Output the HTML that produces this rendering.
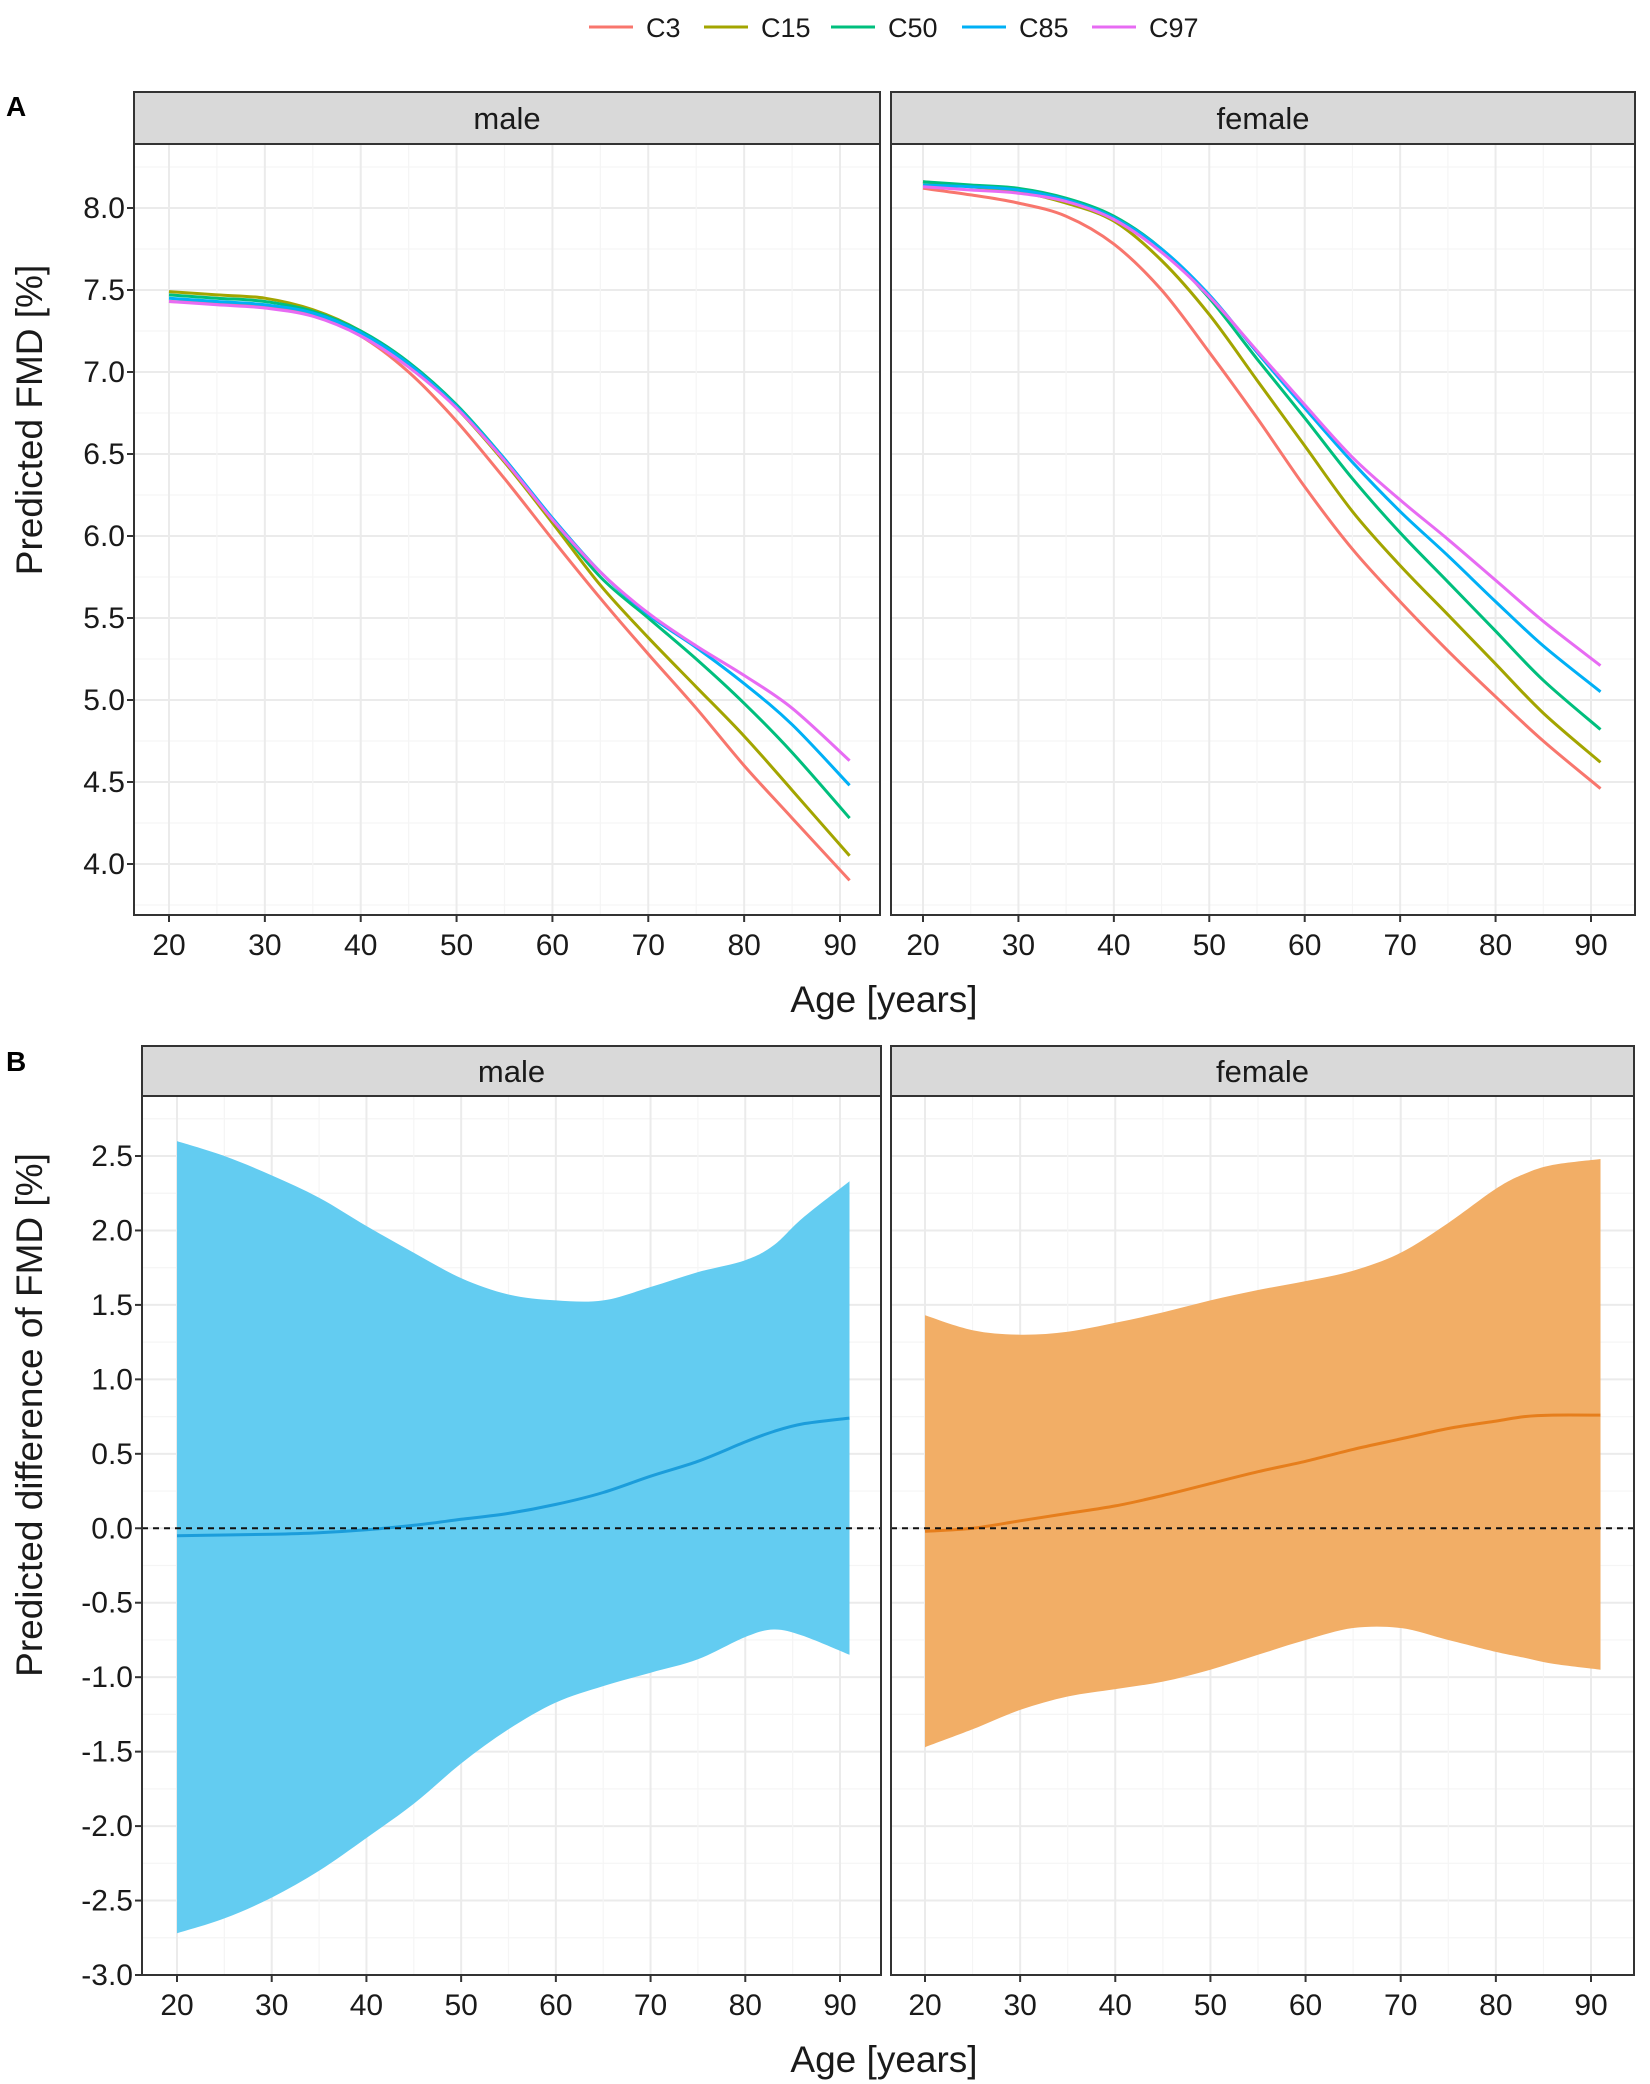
<!DOCTYPE html>
<html><head><meta charset="utf-8">
<style>
html,body{margin:0;padding:0;background:#fff;}
svg{display:block;font-family:"Liberation Sans",sans-serif;}
</style></head>
<body>
<svg id="chart" width="1650" height="2084" viewBox="0 0 1650 2084" xmlns="http://www.w3.org/2000/svg">
<rect width="1650" height="2084" fill="#fff"/>
</svg>
<script>
// ---------- data ----------
const agesA = [20,25,30,35,40,45,50,55,60,65,70,75,80,85,91];
const percentiles = ["C3","C15","C50","C85","C97"];
const maleC3  = [7.43,7.42,7.40,7.35,7.22,7.00,6.70,6.35,5.98,5.62,5.28,4.95,4.60,4.28,3.90];
const maleC15 = [7.49,7.47,7.45,7.38,7.25,7.05,6.78,6.45,6.08,5.70,5.38,5.08,4.78,4.45,4.05];
const maleC50 = [7.47,7.45,7.43,7.37,7.25,7.06,6.80,6.47,6.10,5.75,5.50,5.25,4.98,4.68,4.28];
const maleC85 = [7.45,7.43,7.41,7.36,7.24,7.05,6.79,6.47,6.11,5.78,5.52,5.32,5.10,4.85,4.48];
const maleC97 = [7.43,7.41,7.39,7.34,7.22,7.03,6.78,6.46,6.10,5.78,5.53,5.33,5.15,4.95,4.63];
const femC3   = [8.12,8.08,8.03,7.95,7.78,7.50,7.12,6.72,6.30,5.92,5.60,5.30,5.02,4.75,4.46];
const femC15  = [8.16,8.13,8.10,8.03,7.92,7.68,7.35,6.95,6.55,6.15,5.82,5.52,5.22,4.92,4.62];
const femC50  = [8.16,8.14,8.12,8.06,7.95,7.75,7.45,7.08,6.72,6.35,6.02,5.72,5.42,5.12,4.82];
const femC85  = [8.14,8.13,8.11,8.05,7.94,7.75,7.47,7.12,6.78,6.45,6.15,5.88,5.60,5.33,5.05];
const femC97  = [8.13,8.11,8.09,8.04,7.93,7.73,7.46,7.13,6.80,6.48,6.22,5.98,5.73,5.48,5.21];
const yTicksA = [4.0,4.5,5.0,5.5,6.0,6.5,7.0,7.5,8.0];
const yTicksB = [-3.0,-2.5,-2.0,-1.5,-1.0,-0.5,0.0,0.5,1.0,1.5,2.0,2.5];
const xTicks  = [20,30,40,50,60,70,80,90];
const agesB   = [20,25,30,35,40,45,50,55,60,65,70,75,80,83,86,91];
const maleUpper = [2.60,2.50,2.37,2.22,2.03,1.85,1.68,1.57,1.53,1.53,1.62,1.72,1.80,1.90,2.08,2.33];
const maleLower = [-2.72,-2.62,-2.48,-2.30,-2.08,-1.85,-1.58,-1.35,-1.17,-1.06,-0.97,-0.88,-0.73,-0.68,-0.72,-0.85];
const maleMean  = [-0.05,-0.045,-0.04,-0.03,-0.01,0.02,0.06,0.10,0.16,0.24,0.35,0.45,0.58,0.65,0.70,0.74];
const femUpper  = [1.43,1.33,1.30,1.32,1.38,1.45,1.53,1.60,1.66,1.73,1.85,2.05,2.28,2.38,2.44,2.48];
const femLower  = [-1.47,-1.35,-1.22,-1.13,-1.08,-1.03,-0.95,-0.85,-0.75,-0.67,-0.67,-0.75,-0.83,-0.87,-0.91,-0.95];
const femMean   = [-0.02,0.00,0.05,0.10,0.15,0.22,0.30,0.38,0.45,0.53,0.60,0.67,0.72,0.75,0.76,0.76];

const colors = ["#F8766D","#A3A500","#00BF7D","#00B0F6","#E76BF3"];
const NS = "http://www.w3.org/2000/svg";
const svg = document.getElementById("chart");
function mk(tag, attrs, parent){
  const e = document.createElementNS(NS, tag);
  for (const k in attrs) e.setAttribute(k, attrs[k]);
  (parent||svg).appendChild(e);
  return e;
}
function lin(d0,d1,r0,r1){return v=>r0+(v-d0)*(r1-r0)/(d1-d0);}
function smoothPath(pts){
  let d = "M"+pts[0][0].toFixed(1)+","+pts[0][1].toFixed(1);
  for(let i=0;i<pts.length-1;i++){
    const p0=pts[i-1]||pts[i], p1=pts[i], p2=pts[i+1], p3=pts[i+2]||p2;
    const c1=[p1[0]+(p2[0]-p0[0])/6, p1[1]+(p2[1]-p0[1])/6];
    const c2=[p2[0]-(p3[0]-p1[0])/6, p2[1]-(p3[1]-p1[1])/6];
    d+=" C"+c1[0].toFixed(1)+","+c1[1].toFixed(1)+" "+c2[0].toFixed(1)+","+c2[1].toFixed(1)+" "+p2[0].toFixed(1)+","+p2[1].toFixed(1);
  }
  return d;
}

function panel(cfg){
  const g = mk("g",{});
  
  
  const {x0,x1,stripTop,top,bottom} = cfg;
  const sx = cfg.sx, sy = cfg.sy;
  const yMin = cfg.yMin, yMax = cfg.yMax;
  for(let v=Math.ceil(yMin*4)/4; v<=yMax; v+=0.25){
    const major = Math.abs(v*2-Math.round(v*2))<1e-6;
    mk("line",{x1:x0,x2:x1,y1:sy(v),y2:sy(v),stroke:major?"#ebebeb":"#f5f5f5","stroke-width":major?2:1.2},g);
  }
  for(let a=15;a<=95;a+=5){
    const x=sx(a); if(x<=x0||x>=x1) continue;
    const major=a%10===0;
    mk("line",{x1:x,x2:x,y1:top,y2:bottom,stroke:major?"#ebebeb":"#f5f5f5","stroke-width":major?2:1.2},g);
  }
  cfg.draw(g);
  const b = mk("rect",{x:x0,y:top,width:x1-x0,height:bottom-top,fill:"none",stroke:"#333","stroke-width":2},g);
  
  
  const s = mk("rect",{x:x0,y:stripTop,width:x1-x0,height:top-stripTop,fill:"#d9d9d9",stroke:"#333","stroke-width":2},g);
  
  
  const st = mk("text",{x:(x0+x1)/2,y:(stripTop+top)/2+11,"text-anchor":"middle","font-size":31,fill:"#1a1a1a"},g);
  st.textContent = cfg.label;
  
  
  xTicks.forEach(t=>{
    const x=sx(t);
    mk("line",{x1:x,x2:x,y1:bottom,y2:bottom+7,stroke:"#333","stroke-width":2},g);
    const tl = mk("text",{x:x,y:bottom+40,"text-anchor":"middle","font-size":30,fill:"#1a1a1a"},g);
    tl.textContent = t;
    
    
  });
  if(cfg.yTicks){
    cfg.yTicks.forEach(t=>{
      const y=sy(t);
      mk("line",{x1:x0-7,x2:x0,y1:y,y2:y,stroke:"#333","stroke-width":2},g);
      const tl = mk("text",{x:x0-9,y:y+10,"text-anchor":"end","font-size":30,fill:"#1a1a1a"},g);
      tl.textContent = t.toFixed(1);
      
      
    });
  }
}

// ---------- Panel A ----------
const syA = lin(8.0,4.0,208,864);
const maleSeries = [maleC3,maleC15,maleC50,maleC85,maleC97];
const femSeries = [femC3,femC15,femC50,femC85,femC97];
function drawLines(series, sx, sy){
  return g=>{
    series.forEach((arr,i)=>{
      const p = mk("path",{d:smoothPath(agesA.map((a,j)=>[sx(a),sy(arr[j])])),fill:"none",stroke:colors[i],"stroke-width":3},g);
      
      
    });
  };
}
const sxAm = lin(20,90,169,840), sxAf = lin(20,90,923,1591);
panel({name:"panel-a-male",label:"male",x0:134,x1:880,stripTop:92,top:144,bottom:915,sx:sxAm,sy:syA,yMin:3.7,yMax:8.3,yTicks:yTicksA,draw:drawLines(maleSeries,sxAm,syA)});
panel({name:"panel-a-female",label:"female",x0:891,x1:1635,stripTop:92,top:144,bottom:915,sx:sxAf,sy:syA,yMin:3.7,yMax:8.3,yTicks:null,draw:drawLines(femSeries,sxAf,syA)});

// ---------- Panel B ----------
const syB = lin(2.5,-3.0,1156,1975);
function drawBand(up,lo,mean,sx,fill,line,x0,x1){
  return g=>{
    const top = agesB.map((a,j)=>[sx(a),syB(up[j])]);
    const bot = agesB.map((a,j)=>[sx(a),syB(lo[j])]).reverse();
    let d = smoothPath(top) + " L" + bot[0][0].toFixed(1)+","+bot[0][1].toFixed(1) + smoothPath(bot).replace(/^M[^C]*/,"") + " Z";
    const band = mk("path",{d:d,fill:fill,stroke:"none"},g);
    
    
    const m = mk("path",{d:smoothPath(agesB.map((a,j)=>[sx(a),syB(mean[j])])),fill:"none",stroke:line,"stroke-width":3},g);
    
    
    const ref = mk("line",{x1:x0,x2:x1,y1:syB(0),y2:syB(0),stroke:"#111","stroke-width":2,"stroke-dasharray":"6,5"},g);
    
    
  };
}
const sxBm = lin(20,90,177,840), sxBf = lin(20,90,925,1591);
function bandPanel(name,label,x0,x1,sx,up,lo,mean,fill,line,yt){
  panel({name:name,label:label,x0:x0,x1:x1,stripTop:1046,top:1096,bottom:1975,sx:sx,sy:syB,yMin:-3.0,yMax:2.8,yTicks:yt,
    draw:drawBand(up,lo,mean,sx,fill,line,x0,x1)});
}
bandPanel("panel-b-male","male",142,881,sxBm,maleUpper,maleLower,maleMean,"#63CCF1","#1B9DDB",yTicksB);
bandPanel("panel-b-female","female",891,1634,sxBf,femUpper,femLower,femMean,"#F2AE66","#E67E1C",null);

// ---------- labels ----------
function txt(s,attrs,name){
  const t = mk("text",attrs); t.textContent=s;
  
  
  return t;
}
txt("A",{x:6,y:116,"font-size":28,"font-weight":"bold",fill:"#000"},"panel-label-a");
txt("B",{x:6,y:1071,"font-size":28,"font-weight":"bold",fill:"#000"},"panel-label-b");
txt("Predicted FMD [%]",{x:42,y:420,"text-anchor":"middle","font-size":37,fill:"#1a1a1a",transform:"rotate(-90 42 420)"},"y-axis-title-a");
txt("Predicted difference of FMD [%]",{x:42,y:1415,"text-anchor":"middle","font-size":37,fill:"#1a1a1a",transform:"rotate(-90 42 1415)"},"y-axis-title-b");
txt("Age [years]",{x:884,y:1012,"text-anchor":"middle","font-size":37,fill:"#1a1a1a"},"x-axis-title-a");
txt("Age [years]",{x:884,y:2072,"text-anchor":"middle","font-size":37,fill:"#1a1a1a"},"x-axis-title-b");

// ---------- legend ----------
const legX = [589,704,831,962,1092];
percentiles.forEach((p,i)=>{
  const g = mk("g",{});
  
  
  mk("line",{x1:legX[i],x2:legX[i]+44,y1:27,y2:27,stroke:colors[i],"stroke-width":3},g);
  const t = mk("text",{x:legX[i]+57,y:37,"font-size":27,fill:"#1a1a1a"},g);
  t.textContent = p;
});
</script>
</body></html>
